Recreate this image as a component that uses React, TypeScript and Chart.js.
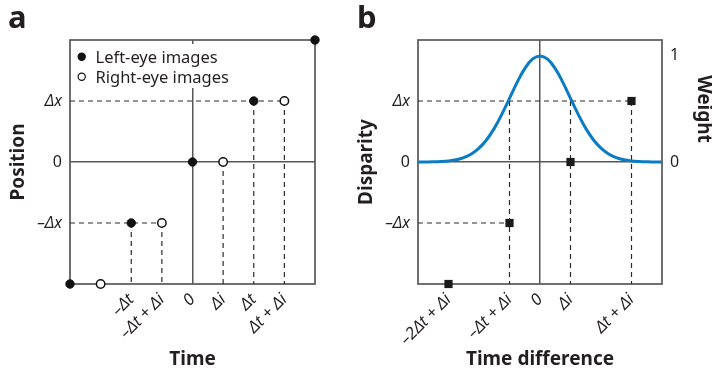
import { useEffect, useRef } from "react";
import { Chart, registerables } from "chart.js";

Chart.register(...registerables);

const FONT = "'Noto Sans', 'Open Sans', sans-serif";
const INK = "#231f20";
const FRAME = "#575757";
const GUIDE = "#2a2a2a";
const CURVE = "#0b7cc4";

// ---------- Panel a data ----------
const TIME_RANGE = [-2, 2];
const POSITION_RANGE = [-2, 2];
const timeTicks = [-1, -0.5, 0, 0.5, 1, 1.5];
const timeTickLabels = ["–Δt", "–Δt + Δi", "0", "Δi", "Δt", "Δt + Δi"];
const positionTicks = [-1, 0, 1];
const positionTickLabels = ["–Δx", "0", "Δx"];
const leftEyeTime = [-2, -1, 0, 1, 2];
const leftEyePosition = [-2, -1, 0, 1, 2];
const rightEyeTime = [-1.5, -0.5, 0.5, 1.5];
const rightEyePosition = [-2, -1, 0, 1];
const seriesLabels = ["Left-eye images", "Right-eye images"];

// ---------- Panel b data ----------
const DIFF_RANGE = [-2, 2];
const DISPARITY_RANGE = [-2, 2];
const WEIGHT_RANGE = [-1.15, 1.15];
const diffTicks = [-1.5, -0.5, 0, 0.5, 1.5];
const diffTickLabels = ["–2Δt + Δi", "–Δt + Δi", "0", "Δi", "Δt + Δi"];
const disparityTicks = [-1, 0, 1];
const disparityTickLabels = ["–Δx", "0", "Δx"];
const weightTicks = [0, 1];
const weightTickLabels = ["0", "1"];
const pairDiff = [-1.5, -0.5, 0.5, 1.5];
const pairDisparity = [-2, -1, 0, 1];
const weightDiff = [
  -2, -1.875, -1.75, -1.625, -1.5, -1.375, -1.25, -1.125, -1, -0.875, -0.75, -0.625, -0.5,
  -0.375, -0.25, -0.125, 0, 0.125, 0.25, 0.375, 0.5, 0.625, 0.75, 0.875, 1, 1.125, 1.25,
  1.375, 1.5, 1.625, 1.75, 1.875, 2,
];
const weightValue = [
  0.0003, 0.0008, 0.0019, 0.0046, 0.0101, 0.0211, 0.0412, 0.0756, 0.13, 0.21, 0.317, 0.451, 0.6,
  0.751, 0.88, 0.969, 1, 0.969, 0.88, 0.751, 0.6, 0.451, 0.317, 0.21, 0.13, 0.0756, 0.0412,
  0.0211, 0.0101, 0.0046, 0.0019, 0.0008, 0.0003,
];
const halfWeightDiff = [-0.5, 0.5];
const halfWeightDisparity = 1;

// ---------- helpers ----------
type Pt = { x: number; y: number };

const fixedTicks = (values: number[]) => (scale: any) => {
  scale.ticks = values.map((v) => ({ value: v }));
};
const labelFor = (values: number[], labels: string[]) => (v: any) => {
  const i = values.indexOf(Number(v));
  return i < 0 ? "" : labels[i];
};
const zeroGrid = (c: any) => (c.tick && c.tick.value === 0 ? FRAME : "rgba(0,0,0,0)");

const guideDataset = (seg: Pt[]) => ({
  type: "line" as const,
  data: seg,
  borderColor: GUIDE,
  borderWidth: 1.2,
  borderDash: [5, 4],
  pointRadius: 0,
  fill: false,
  tension: 0,
  order: 5,
});

const framePlugin = {
  id: "frame",
  beforeDatasetsDraw(chart: any) {
    const { ctx, chartArea: a } = chart;
    ctx.save();
    ctx.strokeStyle = FRAME;
    ctx.lineWidth = 1.7;
    ctx.strokeRect(a.left, a.top, a.right - a.left, a.bottom - a.top);
    ctx.restore();
  },
};

const insideLegend = {
  id: "insideLegend",
  afterDatasetsDraw(chart: any) {
    const items = chart.data.datasets.filter((d: any) => d.inLegend);
    if (!items.length) return;
    const { ctx, chartArea: a } = chart;
    ctx.save();
    ctx.font = `16.5px ${FONT}`;
    const rowH = 20;
    const x0 = a.left + 2;
    const y0 = a.top + 4;
    const w = Math.max(...items.map((d: any) => ctx.measureText(d.label).width)) + 30;
    ctx.fillStyle = "#fff";
    ctx.fillRect(x0, y0, w, rowH * items.length + 4);
    items.forEach((d: any, i: number) => {
      const cy = y0 + 12.7 + i * rowH;
      ctx.beginPath();
      ctx.arc(a.left + 11.7, cy, 3.6, 0, Math.PI * 2);
      ctx.fillStyle = d.pointBackgroundColor;
      ctx.fill();
      ctx.lineWidth = 1.2;
      ctx.strokeStyle = d.pointBorderColor;
      ctx.stroke();
      ctx.fillStyle = INK;
      ctx.textBaseline = "alphabetic";
      ctx.textAlign = "left";
      ctx.fillText(d.label, a.left + 25.5, cy + 6);
    });
    ctx.restore();
  },
};

const weightTitle = {
  id: "weightTitle",
  afterDraw(chart: any) {
    const s = chart.scales.y2;
    if (!s) return;
    const { ctx } = chart;
    ctx.save();
    ctx.font = `bold 19px ${FONT}`;
    ctx.fillStyle = INK;
    ctx.textAlign = "center";
    ctx.textBaseline = "middle";
    ctx.translate(s.right - 9, s.getPixelForValue(0.5));
    ctx.rotate(Math.PI / 2);
    ctx.fillText("Weight", 0, 0);
    ctx.restore();
  },
};

const tickFontY = (c: any) => ({
  family: FONT,
  size: 16,
  style: c.tick && c.tick.value === 0 ? "normal" : "italic",
});

const axisTitleFont = { family: FONT, size: 19, weight: "bold" as const, lineHeight: 1 };

const panelTitle = (t: string) => ({
  display: true,
  text: t,
  align: "start" as const,
  color: INK,
  font: { family: FONT, size: 31, weight: "bold" as const, lineHeight: 1.2 },
  padding: { top: 1, bottom: 1.8 },
});

const xTickOptions = (values: number[], labels: string[]) => ({
  autoSkip: false,
  minRotation: 45,
  maxRotation: 45,
  padding: 6,
  color: INK,
  font: { family: FONT, size: 16.5, style: "italic" as const },
  callback: labelFor(values, labels),
});

// ---------- chart configs ----------
function configA(): any {
  const guides: Pt[][] = [];
  rightEyeTime.forEach((t, i) => {
    const y = rightEyePosition[i];
    if (y > POSITION_RANGE[0] && y !== 0) guides.push([{ x: TIME_RANGE[0], y }, { x: t, y }]);
  });
  const allPts: Pt[] = [
    ...leftEyeTime.map((x, i) => ({ x, y: leftEyePosition[i] })),
    ...rightEyeTime.map((x, i) => ({ x, y: rightEyePosition[i] })),
  ];
  allPts.forEach((p) => {
    if (p.y > POSITION_RANGE[0] && p.x !== 0 && p.x < TIME_RANGE[1])
      guides.push([{ x: p.x, y: p.y }, { x: p.x, y: POSITION_RANGE[0] }]);
  });

  return {
    type: "scatter",
    data: {
      datasets: [
        {
          label: seriesLabels[0],
          inLegend: true,
          data: leftEyeTime.map((x, i) => ({ x, y: leftEyePosition[i] })),
          pointRadius: 4.2,
          pointBackgroundColor: "#111",
          pointBorderColor: "#111",
          pointBorderWidth: 1,
          clip: false,
          order: 0,
        },
        {
          label: seriesLabels[1],
          inLegend: true,
          data: rightEyeTime.map((x, i) => ({ x, y: rightEyePosition[i] })),
          pointRadius: 4.2,
          pointBackgroundColor: "#fff",
          pointBorderColor: "#111",
          pointBorderWidth: 1.5,
          clip: false,
          order: 0,
        },
        ...guides.map(guideDataset),
      ],
    },
    options: {
      responsive: false,
      animation: false,
      layout: { padding: { left: 8, right: 35, top: 0, bottom: 0 } },
      plugins: {
        legend: { display: false },
        tooltip: { enabled: false },
        title: panelTitle("a"),
      },
      scales: {
        x: {
          type: "linear",
          min: TIME_RANGE[0],
          max: TIME_RANGE[1],
          afterBuildTicks: fixedTicks(timeTicks),
          afterFit: (s: any) => {
            s.height = 88;
          },
          border: { display: false },
          grid: { drawTicks: false, color: zeroGrid, lineWidth: 1.5 },
          ticks: xTickOptions(timeTicks, timeTickLabels),
          title: { display: true, text: "Time", color: INK, font: axisTitleFont, padding: { top: 0, bottom: 3 } },
        },
        y: {
          type: "linear",
          min: POSITION_RANGE[0],
          max: POSITION_RANGE[1],
          afterBuildTicks: fixedTicks(positionTicks),
          afterFit: (s: any) => {
            s.width = 62;
          },
          border: { display: false },
          grid: { drawTicks: false, color: zeroGrid, lineWidth: 1.5 },
          ticks: {
            padding: 8,
            color: INK,
            font: tickFontY,
            callback: labelFor(positionTicks, positionTickLabels),
          },
          title: { display: true, text: "Position", color: INK, font: axisTitleFont, padding: { top: 1, bottom: 0 } },
        },
      },
    },
    plugins: [framePlugin, insideLegend],
  };
}

function configB(): any {
  const guides: Pt[][] = [];
  pairDiff.forEach((d, i) => {
    const y = pairDisparity[i];
    if (y > DISPARITY_RANGE[0] && y !== 0) guides.push([{ x: DIFF_RANGE[0], y }, { x: d, y }]);
  });
  const drops = new Map<number, number>();
  pairDiff.forEach((d, i) => {
    const v = pairDisparity[i];
    if (v > DISPARITY_RANGE[0] && d !== 0) drops.set(d, Math.max(drops.get(d) ?? -Infinity, v));
  });
  halfWeightDiff.forEach((d) => drops.set(d, Math.max(drops.get(d) ?? -Infinity, halfWeightDisparity)));
  drops.forEach((top, d) => guides.push([{ x: d, y: top }, { x: d, y: DISPARITY_RANGE[0] }]));

  return {
    type: "scatter",
    data: {
      datasets: [
        {
          label: "Pairs",
          data: pairDiff.map((x, i) => ({ x, y: pairDisparity[i] })),
          pointStyle: "rect",
          pointRadius: 5.8,
          pointBackgroundColor: "#1a1a1a",
          pointBorderColor: "#1a1a1a",
          pointBorderWidth: 0,
          clip: false,
          order: 0,
        },
        {
          type: "line",
          label: "Weight",
          data: weightDiff.map((x, i) => ({ x, y: weightValue[i] })),
          yAxisID: "y2",
          borderColor: CURVE,
          borderWidth: 3,
          pointRadius: 0,
          tension: 0.4,
          fill: false,
          order: 1,
        },
        ...guides.map(guideDataset),
      ],
    },
    options: {
      responsive: false,
      animation: false,
      layout: { padding: { left: 7, right: 0, top: 0, bottom: 0 } },
      plugins: {
        legend: { display: false },
        tooltip: { enabled: false },
        title: panelTitle("b"),
      },
      scales: {
        x: {
          type: "linear",
          min: DIFF_RANGE[0],
          max: DIFF_RANGE[1],
          afterBuildTicks: fixedTicks(diffTicks),
          afterFit: (s: any) => {
            s.height = 88;
          },
          border: { display: false },
          grid: { drawTicks: false, color: zeroGrid, lineWidth: 1.5 },
          ticks: xTickOptions(diffTicks, diffTickLabels),
          title: {
            display: true,
            text: "Time difference",
            color: INK,
            font: axisTitleFont,
            padding: { top: 0, bottom: 3 },
          },
        },
        y: {
          type: "linear",
          position: "left",
          min: DISPARITY_RANGE[0],
          max: DISPARITY_RANGE[1],
          afterBuildTicks: fixedTicks(disparityTicks),
          afterFit: (s: any) => {
            s.width = 61;
          },
          border: { display: false },
          grid: { drawTicks: false, color: zeroGrid, lineWidth: 1.5 },
          ticks: {
            padding: 8,
            color: INK,
            font: tickFontY,
            callback: labelFor(disparityTicks, disparityTickLabels),
          },
          title: { display: true, text: "Disparity", color: INK, font: axisTitleFont, padding: { top: 0, bottom: 0 } },
        },
        y2: {
          type: "linear",
          position: "right",
          min: WEIGHT_RANGE[0],
          max: WEIGHT_RANGE[1],
          afterBuildTicks: fixedTicks(weightTicks),
          afterFit: (s: any) => {
            s.width = 50;
          },
          border: { display: false },
          grid: { display: false, drawTicks: false },
          ticks: {
            padding: 8,
            color: INK,
            font: { family: FONT, size: 16 },
            callback: labelFor(weightTicks, weightTickLabels),
          },
        },
      },
    },
    plugins: [framePlugin, weightTitle],
  };
}

export default function App() {
  const refA = useRef<HTMLCanvasElement>(null);
  const refB = useRef<HTMLCanvasElement>(null);

  useEffect(() => {
    const a = new Chart(refA.current as HTMLCanvasElement, configA());
    const b = new Chart(refB.current as HTMLCanvasElement, configB());
    return () => {
      a.destroy();
      b.destroy();
    };
  }, []);

  return (
    <div
      style={{
        position: "fixed",
        left: 0,
        top: 0,
        width: 712,
        height: 372,
        background: "#fff",
        overflow: "hidden",
      }}
    >
      <canvas
        ref={refA}
        width={350}
        height={372}
        style={{ position: "absolute", left: 0, top: 0, width: 350, height: 372 }}
      />
      <canvas
        ref={refB}
        width={362}
        height={372}
        style={{ position: "absolute", left: 350, top: 0, width: 362, height: 372 }}
      />
    </div>
  );
}
